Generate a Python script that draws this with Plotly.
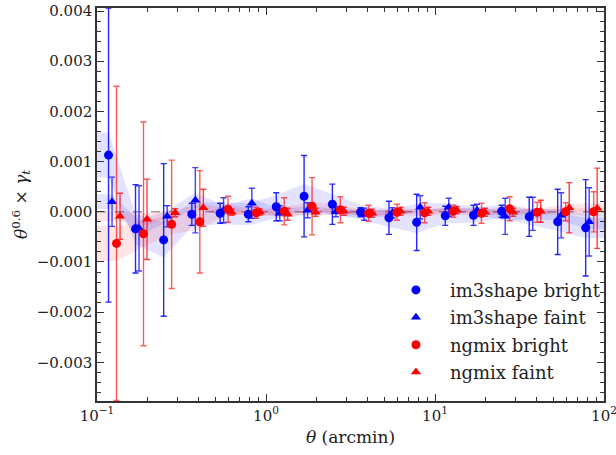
import plotly.graph_objects as go

# Bin centres (arcmin)
theta = [0.117, 0.169, 0.248, 0.364, 0.535, 0.786, 1.15, 1.68, 2.47, 3.63,
         5.34, 7.79, 11.5, 16.9, 24.8, 36.1, 53.2, 77.9]

# values in units of 1e-4
im3_bright = [11.3, -3.4, -5.6, -0.5, -0.3, -0.5, 1.0, 3.1, 1.5, -0.1,
              -1.2, -2.1, -0.8, -0.7, 0.1, -1.0, -2.0, -3.2]
im3_bright_err = [29.3, 8.8, 15.2, 2.2, 2.0, 1.5, 2.8, 8.1, 4.0, 0.9,
                  3.3, 5.6, 1.9, 2.0, 1.2, 3.9, 6.5, 9.6]
im3_bright_band = [4.5, 3.0, 3.5, 2.5, 2.2, 2.2, 2.3, 2.5, 2.0, 1.5,
                   1.8, 2.2, 1.5, 1.5, 1.3, 1.6, 1.8, 2.0]
im3_faint = [2.0, -3.3, -0.9, 2.3, 0.3, 1.7, -0.3, 0.3, 0.0, -0.5,
             -0.2, 0.9, 0.9, 0.3, -0.9, -0.4, -0.7, -2.0]
im3_faint_err = [4.9, 8.5, 2.1, 6.5, 2.5, 3.0, 1.5, 1.5, 1.0, 1.2,
                 1.0, 2.3, 1.8, 1.2, 3.6, 3.3, 4.5, 6.8]
im3_faint_band = [1.5, 1.5, 1.2, 1.5, 1.0, 1.0, 0.8, 0.8, 0.7, 0.7,
                  0.7, 0.8, 0.8, 0.7, 1.0, 1.0, 1.2, 1.5]
ng_bright = [-6.3, -4.4, -2.5, -2.0, 0.5, -0.2, 0.1, 1.1, 0.4, -0.3,
             -0.1, -0.2, 0.1, -0.3, 0.6, -0.1, 0.0, 0.0]
ng_bright_err = [31.3, 22.3, 12.8, 10.2, 2.6, 1.1, 2.7, 5.7, 2.6, 1.6,
                 1.6, 2.0, 1.2, 2.0, 2.4, 2.0, 1.8, 4.0]
ng_bright_band = [3.5, 2.5, 2.0, 1.5, 0.9, 0.7, 0.8, 1.0, 0.8, 0.6,
                  0.6, 0.7, 0.6, 0.6, 0.7, 0.6, 0.6, 0.8]
ng_faint = [-0.9, -1.5, -0.2, 0.8, -0.1, -0.05, -0.5, -0.1, 0.1, -0.3,
            0.1, 0.1, 0.3, -0.1, -0.1, 0.1, 0.8, 0.7]
ng_faint_err = [4.6, 8.0, 0.8, 3.7, 0.6, 0.6, 1.2, 0.8, 0.8, 0.8,
                0.8, 0.8, 0.7, 0.8, 0.8, 2.2, 5.0, 8.0]
ng_faint_band = [1.0, 1.2, 0.6, 0.8, 0.5, 0.5, 0.5, 0.5, 0.5, 0.5,
                 0.5, 0.5, 0.5, 0.5, 0.5, 0.6, 0.8, 1.0]

SCALE = 1e-4
series = [
    ("im3shape bright", im3_bright, im3_bright_err, im3_bright_band, 1.0, "circle", "#0000ff", "rgba(0,0,255,0.85)", "rgba(0,0,255,0.11)"),
    ("im3shape faint", im3_faint, im3_faint_err, im3_faint_band, 1.049, "triangle-up", "#0000ff", "rgba(0,0,255,0.75)", "rgba(0,0,255,0.11)"),
    ("ngmix bright", ng_bright, ng_bright_err, ng_bright_band, 1.115, "circle", "#ff0000", "rgba(255,0,0,0.65)", "rgba(255,0,0,0.10)"),
    ("ngmix faint", ng_faint, ng_faint_err, ng_faint_band, 1.17, "triangle-up", "#ff0000", "rgba(255,0,0,0.75)", "rgba(255,0,0,0.10)"),
]

fig = go.Figure()

# shaded bands
for name, vals, errs, band, off, sym, col, ecol, fcol in series:
    xs = [0.1] + [t * off for t in theta] + [100]
    v = [vals[0]] + vals + [vals[-1]]
    h = [band[0]] + band + [band[-1]]
    up = [(a + b) * SCALE for a, b in zip(v, h)]
    lo = [(a - b) * SCALE for a, b in zip(v, h)]
    fig.add_trace(go.Scatter(x=xs + xs[::-1], y=up + lo[::-1], fill="toself",
                             fillcolor=fcol, line=dict(width=0), mode="lines",
                             hoverinfo="skip", showlegend=False))

for name, vals, errs, band, off, sym, col, ecol, fcol in series:
    fig.add_trace(go.Scatter(
        x=[t * off for t in theta], y=[v * SCALE for v in vals],
        mode="markers", name=name, legendgroup=name,
        marker=dict(symbol=sym, size=9, color=col, line=dict(width=0)),
        error_y=dict(type="data", array=[e * SCALE for e in errs], visible=True,
                     color=ecol, thickness=1.4, width=3),
    ))

fig.add_shape(type="line", xref="paper", x0=0, x1=1, yref="y", y0=0, y1=0,
              line=dict(color="rgba(120,120,120,0.7)", width=1.5, dash="dash"),
              layer="below")

font = "DejaVu Serif"
minor_x = [m * 10 ** k for k in (-1, 0, 1) for m in range(2, 10)]
fig.update_layout(
    width=616, height=455,
    margin=dict(l=97, r=12, t=8, b=54),
    paper_bgcolor="white", plot_bgcolor="white",
    font=dict(family=font, size=14, color="#222"),
    showlegend=True,
    legend=dict(x=0.562, y=0.329, xanchor="left", yanchor="top",
                font=dict(family=font, size=18, color="#222"),
                bgcolor="rgba(0,0,0,0)", tracegroupgap=1, itemwidth=58),
    xaxis=dict(type="log", range=[-1, 2], showgrid=False, zeroline=False,
               automargin=False,
               tickvals=[0.1, 1, 10, 100],
               ticktext=["10<sup>−1</sup>", "10<sup>0</sup>", "10<sup>1</sup>", "10<sup>2</sup>"],
               ticklabeloverflow="allow",
               ticks="inside", ticklen=7, tickwidth=1.2, tickcolor="#333",
               showline=True, linecolor="#333", linewidth=1.5, mirror="ticks",
               minor=dict(tickvals=minor_x, ticks="inside", ticklen=4, tickwidth=1, tickcolor="#333"),
               title=dict(text="<i>θ</i> (arcmin)", font=dict(family=font, size=17), standoff=7),
               tickfont=dict(family=font, size=15)),
    yaxis=dict(range=[-0.00377, 0.00406], showgrid=False, zeroline=False,
               automargin=False,
               tick0=0, dtick=0.001, tickformat=".3f",
               ticks="inside", ticklen=7, tickwidth=1.2, tickcolor="#333",
               showline=True, linecolor="#333", linewidth=1.5, mirror="ticks",
               minor=dict(dtick=0.0002, ticks="inside", ticklen=4, tickwidth=1, tickcolor="#333"),
               title=dict(text="<i>θ</i><sup>0.6</sup> × <i>γ<sub>t</sub></i>", font=dict(family=font, size=17), standoff=5),
               tickfont=dict(family=font, size=15)),
)

fig.write_html("out.html")
